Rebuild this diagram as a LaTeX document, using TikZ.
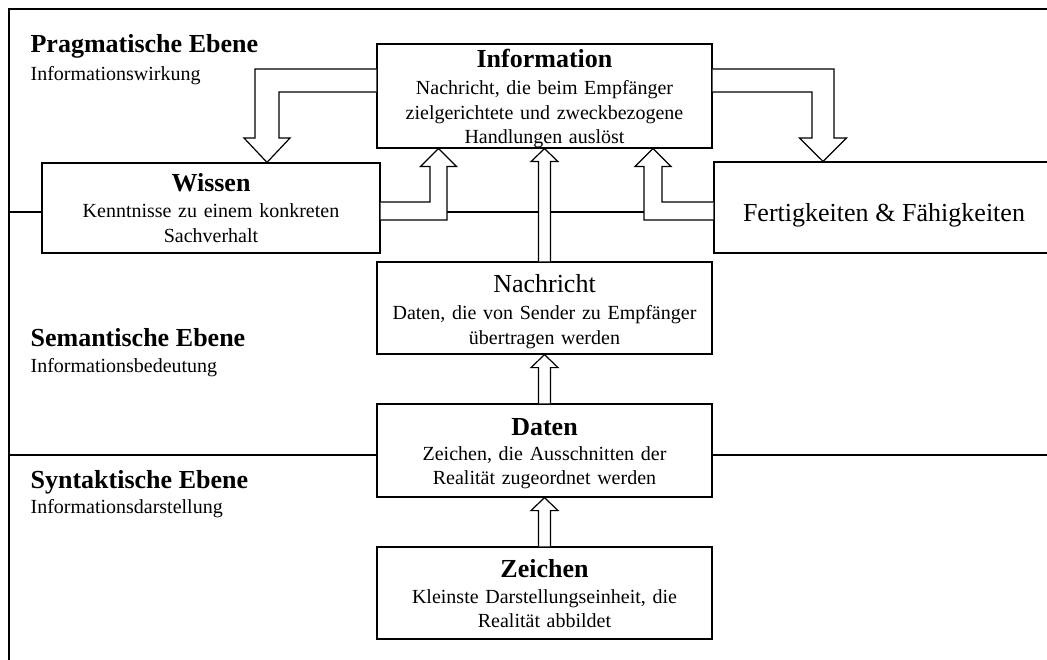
\documentclass[tikz,border=0pt]{standalone}
\usepackage{fontspec}
\setmainfont{Liberation Serif}
\usetikzlibrary{calc}

% bold heading and large plain heading used inside the boxes
\newcommand\boxtitle[1]{{\fontsize{26}{26}\selectfont\bfseries #1}}
\newcommand\boxheading[1]{{\fontsize{26}{26}\selectfont #1}}

% hollow upward block arrow from the top of node #1 to the bottom of node #2
\newcommand\hollowup[2]{%
  \draw[hollow] ($(#1.north)+(-6,0)$) -- ($(#2.south)+(-6,13)$)
    -- ($(#2.south)+(-13.5,13)$) -- (#2.south) -- ($(#2.south)+(13.5,13)$)
    -- ($(#2.south)+(6,13)$) -- ($(#1.north)+(6,0)$);}

\begin{document}
\begin{tikzpicture}[x=1pt,y=-1pt,
  line width=1.2pt,
  box/.style={draw=black, fill=white, inner sep=0pt, align=center,
    font=\fontsize{20}{24.5}\selectfont},
  hollow/.style={draw=black, fill=white, line join=miter},
  level/.style={anchor=base west, inner sep=0pt, text width=320pt, align=left,
    font=\fontsize{20}{24.5}\selectfont}
]
\useasboundingbox (0,0) rectangle (1047,660);

% outer frame and level separators
\draw (9,660) -- (9,9) -- (1047,9);
\draw (9,212) -- (1047,212);
\draw (9,455) -- (1047,455);

% level captions
\node[level] (prag) at (30,53) {\boxtitle{Pragmatische Ebene}\\[3pt] Informationswirkung};
\node[level] (sem) at (30,347) {\boxtitle{Semantische Ebene}\\[0.5pt] Informationsbedeutung};
\node[level] (syn) at (30,488) {\boxtitle{Syntaktische Ebene}\\[0.5pt] Informationsdarstellung};

% concept boxes
\node[box, text width=335pt, text height=24pt, text depth=80pt] (info) at (544.5,96)
  {\boxtitle{Information}\\[2.5pt] Nachricht, die beim Empfänger\\ zielgerichtete und zweckbezogene\\ Handlungen auslöst};
\node[box, text width=338pt, text height=29pt, text depth=61pt] (wissen) at (211,208)
  {\boxtitle{Wissen}\\[1.5pt] Kenntnisse zu einem konkreten\\ Sachverhalt};
\node[box, text width=340pt, text height=59.5pt, text depth=31.5pt] (fert) at (884,207.5)
  {\boxheading{Fertigkeiten \& Fähigkeiten}};
\node[box, text width=335pt, text height=31pt, text depth=61pt] (nach) at (544.5,308)
  {\boxheading{Nachricht}\\[2.5pt] Daten, die von Sender zu Empfänger\\ übertragen werden};
\node[box, text width=335pt, text height=31pt, text depth=62pt] (daten) at (544.5,450.5)
  {\boxtitle{Daten}\\[0.5pt] Zeichen, die Ausschnitten der\\ Realität zugeordnet werden};
\node[box, text width=335pt, text height=30pt, text depth=62pt] (zeichen) at (544.5,593)
  {\boxtitle{Zeichen}\\[1.5pt] Kleinste Darstellungseinheit, die\\ Realität abbildet};

% bent block arrows between the pragmatic boxes
\draw[hollow] (info.west |- 0,69) -- (255,69) -- (255,138) -- (244,138)
  -- (267,0 |- wissen.north) -- (290,138) -- (279,138) -- (279,92) -- (info.west |- 0,92);
\draw[hollow] (info.east |- 0,69) -- (834,69) -- (834,138) -- (846.5,138)
  -- (823,0 |- fert.north) -- (799.5,138) -- (812,138) -- (812,92) -- (info.east |- 0,92);
\draw[hollow] (wissen.east |- 0,220) -- (447,220) -- (447,166.5) -- (456.5,166.5)
  -- (438.5,0 |- info.south) -- (420.5,166.5) -- (430,166.5) -- (430,202) -- (wissen.east |- 0,202);
\draw[hollow] (fert.west |- 0,202) -- (662,202) -- (662,166.5) -- (671,166.5)
  -- (653,0 |- info.south) -- (635,166.5) -- (644,166.5) -- (644,220) -- (fert.west |- 0,220);

% straight block arrows up the chain
\hollowup{nach}{info}
\hollowup{daten}{nach}
\hollowup{zeichen}{daten}
\end{tikzpicture}
\end{document}
